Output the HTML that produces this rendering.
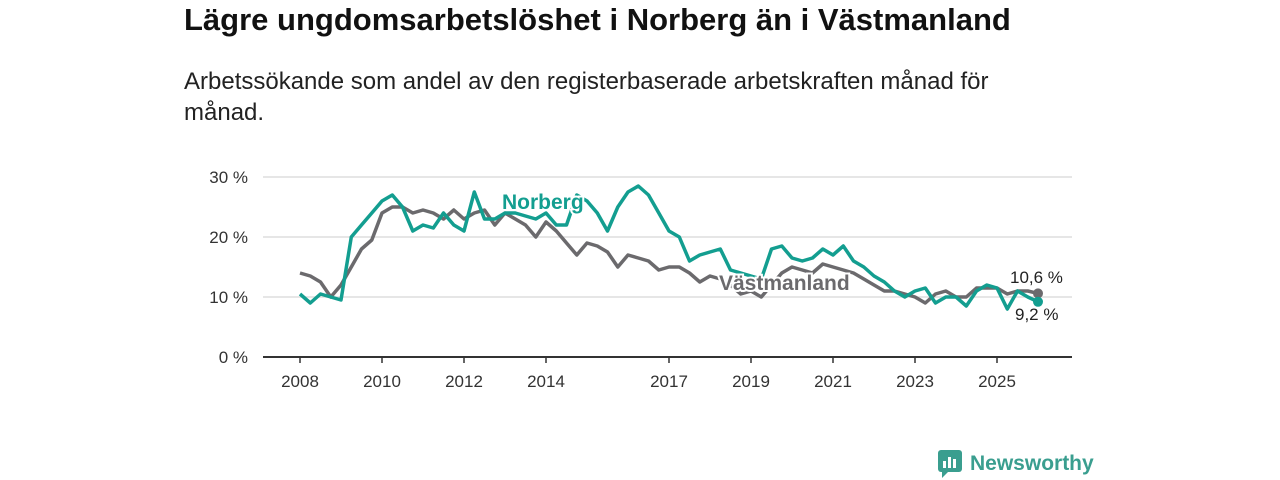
<!DOCTYPE html>
<html><head><meta charset="utf-8"><style>
body{margin:0;width:1280px;height:480px;background:#fff;font-family:"Liberation Sans",sans-serif;overflow:hidden;position:relative}
h1{position:absolute;left:184px;top:2px;margin:0;font-size:31px;font-weight:bold;color:#111;white-space:nowrap}
.sub{position:absolute;left:184px;top:66px;margin:0;font-size:24px;line-height:31px;color:#222;width:850px}
svg{position:absolute;left:0;top:0}
</style></head><body>
<h1>Lägre ungdomsarbetslöshet i Norberg än i Västmanland</h1>
<p class="sub">Arbetssökande som andel av den registerbaserade arbetskraften månad för månad.</p>
<svg id="c" width="1280" height="480"></svg>
<script>
const yTicks=[0,10,20,30];
const xTicks=[2008,2010,2012,2014,2017,2019,2021,2023,2025];
const vast=[14,13.5,12.5,10,12,15,18,19.5,24,25,25,24,24.5,24,23,24.5,23,24,24.5,22,24,23,22,20,22.5,21,19,17,19,18.5,17.5,15,17,16.5,16,14.5,15,15,14,12.5,13.5,13,12,10.5,11,10,12,14,15,14.5,14,15.5,15,14.5,14,13,12,11,11,10.5,10,9,10.5,11,10,10,11.5,11.5,11.5,10.5,11,11,10.6];
const norb=[10.5,9,10.5,10,9.5,20,22,24,26,27,25,21,22,21.5,24,22,21,27.5,23,23,24,24,23.5,23,24,22,22,27,26,24,21,25,27.5,28.5,27,24,21,20,16,17,17.5,18,14.5,14,13.5,13,18,18.5,16.5,16,16.5,18,17,18.5,16,15,13.5,12.5,11,10,11,11.5,9,10,10,8.5,11,12,11.5,8,11,10,9.2];
const svg=document.getElementById('c'),NS='http://www.w3.org/2000/svg';
const X=t=>300+(t-2008)*41, Y=v=>357-v*6;
function mk(tag,at,txt){const e=document.createElementNS(NS,tag);for(const k in at)e.setAttribute(k,at[k]);if(txt!=null)e.textContent=txt;svg.appendChild(e);return e;}
yTicks.forEach(v=>{
 if(v>0){const g=mk('line',{x1:263,x2:1072,y1:Y(v),y2:Y(v),stroke:'#ddd','stroke-width':1.5});
 
 }
 const t=mk('text',{x:248,y:Y(v)+6,'text-anchor':'end','font-size':17,fill:'#333'},v+' %');
 
 
});
const ax=mk('line',{x1:263,x2:1072,y1:357,y2:357,stroke:'#333','stroke-width':2});


xTicks.forEach(y=>{
 const l=mk('line',{x1:X(y),x2:X(y),y1:357,y2:363,stroke:'#333','stroke-width':1.5});
 
 
 const t=mk('text',{x:X(y),y:387,'text-anchor':'middle','font-size':17,fill:'#333'},y);
 
 
});
function line(arr,col,name){
 const d=arr.map((v,i)=>(i?'L':'M')+X(2008+i/4).toFixed(1)+' '+Y(v).toFixed(1)).join(' ');
 const p=mk('path',{d:d,fill:'none',stroke:col,'stroke-width':3.5,'stroke-linejoin':'round'});
 
 
}
line(vast,'#6b6a6d','vastmanland-line');
line(norb,'#139e90','norberg-line');
const lx=X(2008+(vast.length-1)/4);
const d1=mk('circle',{cx:lx,cy:Y(vast[vast.length-1]),r:5,fill:'#6b6a6d'});


const lx2=X(2008+(norb.length-1)/4);
const d2=mk('circle',{cx:lx2,cy:Y(norb[norb.length-1]),r:5,fill:'#139e90'});


const e1=mk('text',{x:1010,y:283,'font-size':17,fill:'#222'},'10,6 %');


const e2=mk('text',{x:1015,y:320,'font-size':17,fill:'#222'},'9,2 %');


const n=mk('text',{x:502,y:209,'font-size':21,'font-weight':'bold',fill:'#139e90',stroke:'#fff','stroke-width':4,'paint-order':'stroke'},'Norberg');


const v=mk('text',{x:719,y:290,'font-size':21,'font-weight':'bold',fill:'#6b6a6d',stroke:'#fff','stroke-width':4,'paint-order':'stroke'},'Västmanland');


</script>
<div style="position:absolute;left:938px;top:450px;display:flex;align-items:center">
<svg width="24" height="28" style="position:static"><rect x="0" y="0" width="24" height="22" rx="3" fill="#3a9e8f"/><polygon points="4,22 10,22 4,28" fill="#3a9e8f"/><rect x="5" y="11" width="3" height="7" fill="#fff"/><rect x="10" y="7" width="3" height="11" fill="#fff"/><rect x="15" y="9" width="3" height="9" fill="#fff"/></svg>
<span style="font-size:21px;font-weight:bold;color:#3a9e8f;margin-left:8px">Newsworthy</span></div>
</body></html>
